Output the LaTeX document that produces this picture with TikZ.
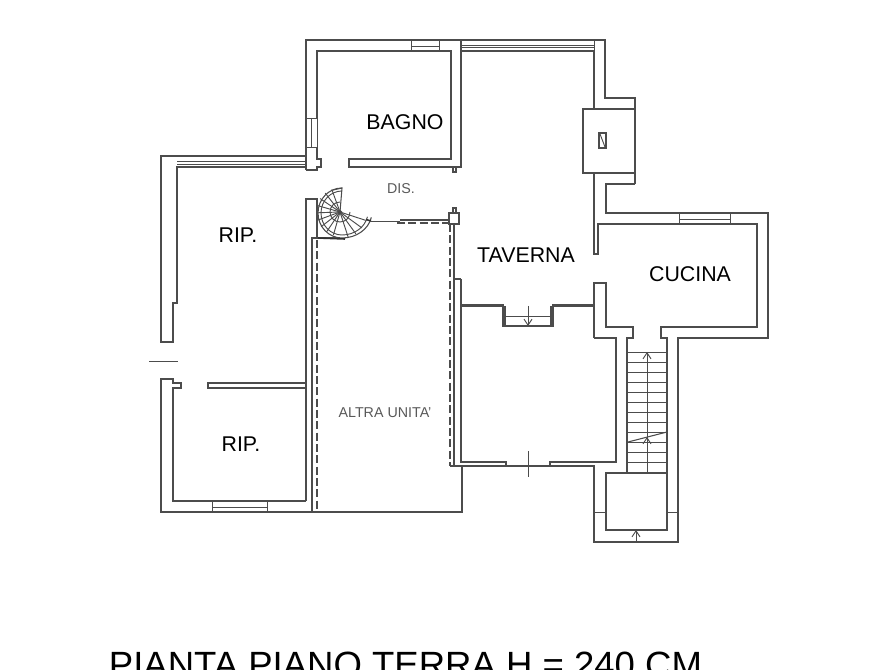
\documentclass[tikz,border=0pt]{standalone}
\usepackage{fontspec}
\setmainfont{Liberation Sans}
\usetikzlibrary{arrows.meta}
\tikzset{every picture/.style={line width=0.75pt}}
\tikzset{wall/.style={line width=0.8pt,draw=black!70},
  thinwall/.style={line width=0.7pt,draw=black!70},
  cutline/.style={line width=0.8pt,draw=black!70,dash pattern=on 6pt off 2.5pt},
  barb/.style={-{Straight Barb[length=4.5pt,width=6pt]}},
  roomlabel/.style={font=\fontsize{16pt}{18pt}\selectfont,inner sep=0pt},
  smalllabel/.style={font=\fontsize{10.7pt}{12pt}\selectfont,text=black!65,inner sep=0pt}}

\begin{document}
\begin{tikzpicture}[x=0.75pt,y=0.75pt,yscale=-1]
\useasboundingbox (0,0) rectangle (893,670);

%Bagno outer wall
\draw[wall] (306,170) -- (306,40) -- (461,40) -- (461,167) -- (349,167) -- (349,159) -- (451,159) -- (451,51) -- (317,51) -- (317,118);
\draw[wall] (317,147) -- (317,159) -- (321,159) -- (321,167) -- (317,167) -- (317,170) -- (306,170);
%Bagno windows
\draw[thinwall] (306,118) -- (317,118) -- (317,147) -- (306,147);
\draw[thinwall] (311,118) -- (311,147);
\draw[thinwall] (411,40) -- (411,51);
\draw[thinwall] (439,40) -- (439,51);
\draw[thinwall] (411,46) -- (439,46);
\draw[wall] (453,167) -- (453,172) -- (456,172) -- (456,167);
%Taverna top window
\draw[wall] (461,40) -- (605,40) -- (605,98) -- (635,98) -- (635,173) -- (583,173) -- (583,109) -- (635,109);
\draw[wall] (461,51) -- (594,51) -- (594,109);
\draw[thinwall] (461,45) -- (594,45);
\draw[thinwall] (461,47) -- (594,47);
\draw[thinwall] (594,40) -- (594,51);
%Chimney flue
\draw[wall] (599,133) rectangle (606,148);
\draw[thinwall] (600,134) -- (605,147);
%Kitchen
\draw[wall] (594,173) -- (594,254) -- (598,254) -- (598,224) -- (757,224) -- (757,327) -- (661,327) -- (661,338) -- (667,338) -- (667,530) -- (606,530) -- (606,473) -- (667,473);
\draw[wall] (635,184) -- (606,184) -- (606,213) -- (768,213) -- (768,338) -- (678,338) -- (678,542) -- (594,542) -- (594,466) -- (450,466);
\draw[wall] (635,173) -- (635,184);
\draw[thinwall] (679,213) -- (679,224);
\draw[thinwall] (730,213) -- (730,224);
\draw[thinwall] (679,219) -- (730,219);
\draw[wall] (594,338) -- (594,283) -- (606,283) -- (606,327) -- (633,327) -- (633,338) -- (627,338) -- (627,473);
\draw[wall] (594,338) -- (616,338) -- (616,462) -- (550,462) -- (550,466);
\draw[wall] (461,279) -- (461,462) -- (506,462) -- (506,466);
\draw[thinwall] (528,451) -- (528,477);
%Landing ticks
\draw[thinwall] (594,512) -- (606,512);
\draw[thinwall] (667,512) -- (678,512);
%Straight stair
\foreach \stepy in {352,362,...,462} {
  \draw[thinwall] (627,\stepy) -- (667,\stepy);
}
\draw[thinwall,barb] (647,473) -- (647,352);
\draw[wall] (628,442) -- (667,432);
\draw[thinwall,barb] (647,446) -- (647,437);
\draw[thinwall,barb] (636,542) -- (636,530);
%Taverna lower wall and steps
\draw[wall] (461,305) -- (503,305) -- (503,326) -- (553,326) -- (553,305) -- (594,305);
\draw[wall] (461,306.5) -- (505,306.5) -- (505,326);
\draw[wall] (594,306.5) -- (551,306.5) -- (551,326);
\draw[thinwall] (505,316) -- (551,316);
\draw[thinwall,barb] (528,306) -- (528,326);
%Shared wall
\draw[wall] (454,224) -- (454,466);
\draw[wall] (454,279) -- (461,279);
\draw[wall] (462,466) -- (462,512) -- (161,512) -- (161,379) -- (173,379) -- (173,383) -- (181,383) -- (181,388) -- (173,388) -- (173,501) -- (306,501);
\draw[cutline] (450,224) -- (450,466);
\draw[cutline] (317,240) -- (317,512);
\draw[wall] (312,512) -- (312,238) -- (340,238);
%Rip. walls
\draw[wall] (306,501) -- (306,199) -- (317,199) -- (317,238);
\draw[wall] (306,383) -- (208,383) -- (208,388) -- (306,388);
\draw[thinwall] (212,501) -- (212,512);
\draw[thinwall] (267,501) -- (267,512);
\draw[thinwall] (212,507) -- (267,507);
\draw[wall] (306,156) -- (161,156) -- (161,342) -- (173,342) -- (173,303) -- (177,303) -- (177,167) -- (306,167);
\draw[thinwall] (177,161) -- (306,161);
\draw[thinwall] (177,164) -- (306,164);
\draw[thinwall] (149,361) -- (178,361);
%Spiral stair
\draw[wall] (342,188) arc (270:90:24 and 25) arc (90:12:30 and 26);
\draw[thinwall] (342,191) arc (270:90:21 and 22) arc (90:12:26 and 23);
\draw[wall] (340,212) -- (342,188) -- (333,190);
\draw[thinwall] (340,202) arc (270:0:10);
\foreach \treadangle in {250,232,...,90} {
  \draw[thinwall] (340,212) -- ++(\treadangle:24);
}
\foreach \treadangle in {72,54,36,18} {
  \draw[thinwall] (340,212) -- ++(\treadangle:27);
}
\draw[wall,fill=black!80] (340,212) circle (1.5);
\draw[line width=1.2pt,draw=black!80] (318,238) -- (345,239);
\draw[line width=1.2pt,draw=black!80] (366,219.5) -- (371,221);
%Rail and jamb
\draw[thinwall] (370,221) -- (400,221);
\draw[wall] (400,220) -- (450,220);
\draw[cutline] (397,223) -- (450,223);
\draw[wall] (449,213) rectangle (459,224);
\draw[wall] (453,213) -- (453,208) -- (456,208) -- (456,213);

% Text Node
\node[roomlabel] (bagno) at (405,122) {BAGNO};
% Text Node
\node[smalllabel] (dis) at (401,189) {DIS.};
% Text Node
\node[roomlabel] (ripup) at (238,235) {RIP.};
% Text Node
\node[roomlabel] (ripdown) at (241,444) {RIP.};
% Text Node
\node[roomlabel] (taverna) at (526,255) {TAVERNA};
% Text Node
\node[roomlabel] (cucina) at (690,274) {CUCINA};
% Text Node
\node[smalllabel] (altra) at (385,413) {ALTRA UNITA'};
% Text Node
\node[anchor=base,inner sep=0pt,font=\fontsize{27.4pt}{30pt}\selectfont] (title) at (405.5,677) {PIANTA PIANO TERRA H = 240 CM};
\end{tikzpicture}
\end{document}
